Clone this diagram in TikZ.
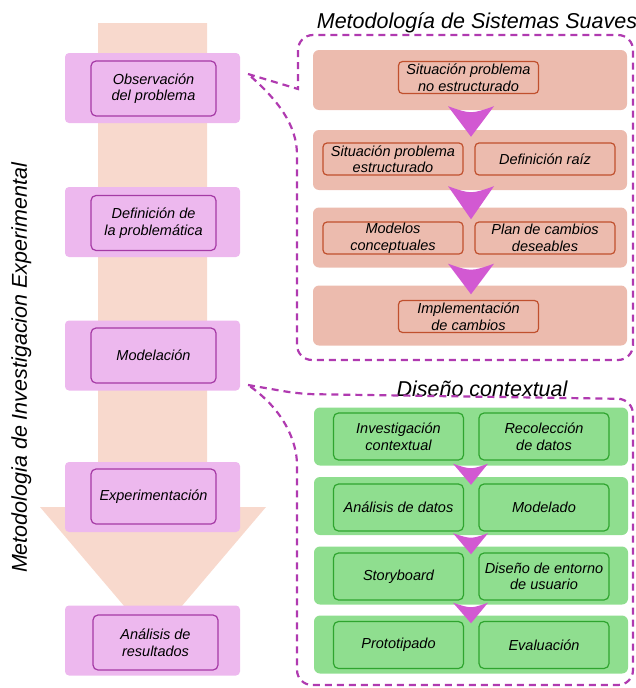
\documentclass[tikz,border=0pt]{standalone}
\usepackage{fontspec}
\setmainfont{Liberation Sans}
\usepackage{xcolor}
\usepackage{tikz}
\usetikzlibrary{positioning,calc}

\definecolor{stagefill}{HTML}{EDB8EE}
\definecolor{stageline}{HTML}{A53AA5}
\definecolor{shaftfill}{HTML}{F8D9CD}
\definecolor{ssmfill}{HTML}{ECBBAE}
\definecolor{ssmline}{HTML}{C0502E}
\definecolor{cdfill}{HTML}{8FDE8F}
\definecolor{cdline}{HTML}{2FA52F}
\definecolor{chevfill}{HTML}{D259D2}
\definecolor{calloutline}{HTML}{B03AB0}

\newcommand{\itemfont}{\fontsize{14.5}{16.5}\selectfont\itshape}
\newcommand{\headfont}{\fontsize{21.5}{24}\selectfont\itshape}

\tikzset{
  stage/.style={fill=stagefill, rounded corners=4pt, minimum width=175pt, minimum height=70pt, inner sep=0pt},
  stagein/.style={draw=stageline, line width=1.2pt, rounded corners=5pt, minimum width=125pt, minimum height=55pt, align=center, inner sep=0pt, font=\itemfont},
  ssmrow/.style={fill=ssmfill, rounded corners=6pt, minimum width=314pt, minimum height=60pt, inner sep=0pt},
  ssmbox/.style={draw=ssmline, line width=1.2pt, rounded corners=4pt, minimum width=140pt, minimum height=32pt, align=center, inner sep=0pt, font=\itemfont},
  cdrow/.style={fill=cdfill, rounded corners=6pt, minimum width=314pt, minimum height=58pt, inner sep=0pt},
  cdbox/.style={draw=cdline, line width=1.2pt, rounded corners=5pt, minimum width=130pt, minimum height=47pt, align=center, inner sep=0pt, font=\itemfont},
  chev/.style={fill=chevfill},
  callout/.style={draw=calloutline, line width=2.2pt, dash pattern=on 7pt off 5pt},
  heading/.style={font=\headfont, inner sep=0pt}
}

\begin{document}
\begin{tikzpicture}[x=1pt,y=-1pt]
  \useasboundingbox (0,0) rectangle (636,688);

  % big arrow behind the stages
  \fill[shaftfill] (98,23) -- (207,23) -- (207,507) -- (266,507) -- (153,640) -- (40,507) -- (98,507) -- cycle;

  \node[heading, rotate=90, anchor=base] (vt) at (27,368) {Metodologia de Investigacion Experimental};

  % stages
  \node[stage](E1) at (152.5,88){};
  \node[stage](E2) at (152.5,222){};
  \node[stage](E3) at (152.5,355.5){};
  \node[stage](E4) at (152.5,497){};
  \node[stage](E5) at (152.5,640.5){};
  \node[stagein](e1) at (153.5,88.5){Observación\\del problema};
  \node[stagein](e2) at (153.5,223){Definición de\\la problemática};
  \node[stagein](e3) at (153.5,355.5){Modelación};
  \node[stagein](e4) at (153.5,496.5){Experimentación};
  \node[stagein](e5) at (155.5,642.5){Análisis de\\resultados};

  % Metodologia de Sistemas Suaves
  \node[heading, anchor=base](T1) at (477,28){Metodología de Sistemas Suaves};
  \node[ssmrow](S1) at (470,80){};
  \node[ssmrow](S2) at (470,160){};
  \node[ssmrow](S3) at (470,237.5){};
  \node[ssmrow](S4) at (470,315.5){};
  \node[ssmbox](s1) at (468.5,77.5){Situación problema\\no estructurado};
  \node[ssmbox](s2a) at (393,159){Situación problema\\estructurado};
  \node[ssmbox](s2b) at (545,159){Definición raíz};
  \node[ssmbox](s3a) at (393,238){Modelos\\conceptuales};
  \node[ssmbox](s3b) at (545,238){Plan de cambios\\deseables};
  \node[ssmbox](s4) at (468.5,316.5){Implementación\\de cambios};

  \foreach \a/\b/\d in {S1/S2/7, S2/S3/12, S3/S4/9}
    \fill[chev] ($(\a.south)+(-22,-4)$) .. controls ($(\a.south)+(1,4)$) .. ($(\a.south)+(24,-4)$) -- ($(\b.north)+(1,\d)$) -- cycle;

  % Diseño contextual
  \node[heading, anchor=base](T2) at (482,396){Diseño contextual};
  \node[cdrow](C1) at (471,436.5){};
  \node[cdrow](C2) at (471,506){};
  \node[cdrow](C3) at (471,575.5){};
  \node[cdrow](C4) at (471,644.5){};
  \node[cdbox](c1a) at (398.5,436.5){Investigación\\contextual};
  \node[cdbox](c1b) at (544,436.5){Recolección\\de datos};
  \node[cdbox](c2a) at (398.5,507.5){Análisis de datos};
  \node[cdbox](c2b) at (544,507.5){Modelado};
  \node[cdbox](c3a) at (398.5,576.5){Storyboard};
  \node[cdbox](c3b) at (544,576.5){Diseño de entorno\\de usuario};
  \node[cdbox](c4a) at (398.5,645){Prototipado};
  \node[cdbox](c4b) at (544,645){Evaluación};

  \foreach \a/\b in {C1/C2, C2/C3, C3/C4}
    \fill[chev] ($(\a.south)+(-18,-2)$) .. controls ($(\a.south)+(0,4)$) .. ($(\a.south)+(17,-2)$) -- ($(\b.north)+(0,8)$) -- cycle;

  % callouts
  \draw[callout] (248,74) -- (298,89) [rounded corners=15] -- (298,35) -- (633,35) -- (633,360) -- (297,360) -- (297,170) [sharp corners] .. controls (297,125) and (278,100) .. (248,74);
  \draw[callout] (248,385) [rounded corners=15] -- (300,394) -- (633,399) -- (633,685) -- (297,685) -- (297,480) [sharp corners] .. controls (297,440) and (282,408) .. (248,385);
\end{tikzpicture}
\end{document}
